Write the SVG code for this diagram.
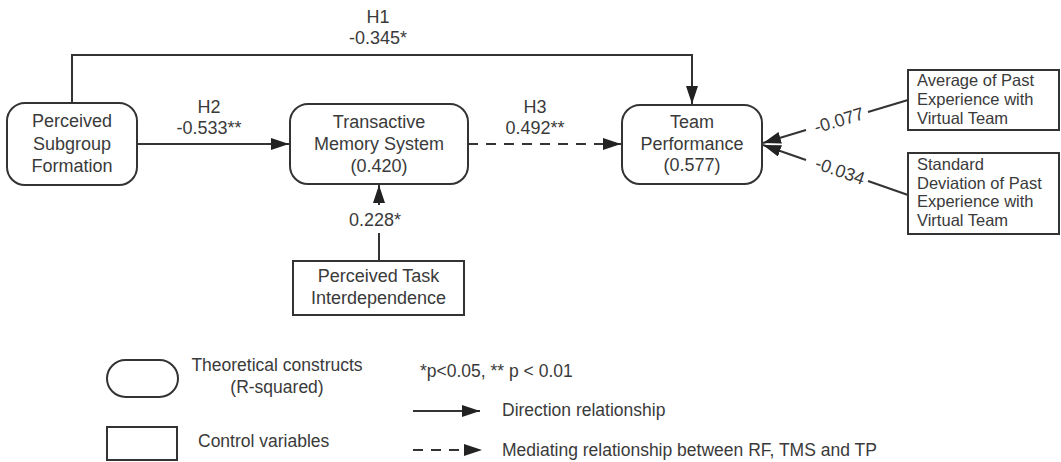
<svg xmlns="http://www.w3.org/2000/svg" width="1061" height="462" viewBox="0 0 1061 462">
<style>
.box{fill:#fff;stroke:#333;stroke-width:2}
.t{font-family:"Liberation Sans",Arial,sans-serif;font-size:18px;fill:#3a3a3a}
.m{text-anchor:middle}
.s{font-size:16.5px}
.l{font-size:17.5px}
.c{fill:none;stroke:#333;stroke-width:2}
.d{stroke-dasharray:10 8}
</style>
<defs>
<marker id="ah" markerUnits="userSpaceOnUse" markerWidth="18" markerHeight="12" refX="18" refY="6" orient="auto">
<path d="M0,0 L18,6 L0,12 z" fill="#222"/>
</marker>
</defs>
<rect width="1061" height="462" fill="#fff"/>
<g id="connectors">
<path class="c" d="M72,103 V55 H692 V104" marker-end="url(#ah)"/>
<path class="c" d="M137,144 H289" marker-end="url(#ah)"/>
<path class="c d" d="M468,144 H621" marker-end="url(#ah)"/>
<path class="c" d="M379,261 V233"/>
<path class="c" d="M379,205 V185" marker-end="url(#ah)"/>
<path class="c" d="M908,100 L868,112"/>
<path class="c" d="M806,130 L763,143" marker-end="url(#ah)"/>
<path class="c" d="M908,195 L868,181"/>
<path class="c" d="M806,160 L763,145" marker-end="url(#ah)"/>
<text class="t m" x="378" y="23">H1</text>
<text class="t m" x="378" y="44">-0.345*</text>
<text class="t m" x="209" y="113">H2</text>
<text class="t m" x="209" y="134">-0.533**</text>
<text class="t m" x="535" y="113">H3</text>
<text class="t m" x="535" y="134">0.492**</text>
<text class="t m" x="375" y="226">0.228*</text>
<text class="t m" transform="translate(839,120.5) rotate(-16.5)" y="6">-0.077</text>
<text class="t m" transform="translate(840,171) rotate(19)" y="6">-0.034</text>
</g>
<g id="psf">
<rect class="box" x="7" y="103" width="130" height="82" rx="18"/>
<text class="t m" x="72" y="127">Perceived</text>
<text class="t m" x="72" y="150">Subgroup</text>
<text class="t m" x="72" y="172">Formation</text>
</g>
<g id="tms">
<rect class="box" x="290" y="104" width="178" height="80" rx="18"/>
<text class="t m" x="379" y="128">Transactive</text>
<text class="t m" x="379" y="150">Memory System</text>
<text class="t m" x="379" y="172">(0.420)</text>
</g>
<g id="tp">
<rect class="box" x="622" y="105" width="140" height="79" rx="18"/>
<text class="t m" x="692" y="128">Team</text>
<text class="t m" x="692" y="150">Performance</text>
<text class="t m" x="692" y="171">(0.577)</text>
</g>
<g id="avg">
<rect class="box" x="908" y="70" width="151" height="60"/>
<text class="t s" x="917" y="86">Average of Past</text>
<text class="t s" x="917" y="105">Experience with</text>
<text class="t s" x="917" y="124">Virtual Team</text>
</g>
<g id="sd">
<rect class="box" x="908" y="153" width="151" height="81"/>
<text class="t s" x="917" y="170">Standard</text>
<text class="t s" x="917" y="189">Deviation of Past</text>
<text class="t s" x="917" y="207">Experience with</text>
<text class="t s" x="917" y="226">Virtual Team</text>
</g>
<g id="pti">
<rect class="box" x="293" y="261" width="171" height="54"/>
<text class="t m" x="378.5" y="282">Perceived Task</text>
<text class="t m" x="378.5" y="304">Interdependence</text>
</g>
<g id="legend">
<rect class="box" x="107" y="360" width="71" height="37" rx="18.5"/>
<text class="t l m" x="277" y="371">Theoretical constructs</text>
<text class="t l m" x="277" y="393">(R-squared)</text>
<rect class="box" x="107" y="427" width="70" height="33"/>
<text class="t l" x="198" y="447">Control variables</text>
<text class="t l" x="420" y="377">*p&lt;0.05, ** p &lt; 0.01</text>
<path class="c" d="M413,411 H480" marker-end="url(#ah)"/>
<text class="t l" x="502" y="416">Direction relationship</text>
<path class="c d" d="M413,450 H482" marker-end="url(#ah)"/>
<text class="t l" x="502" y="456">Mediating relationship between RF, TMS and TP</text>
</g>
</svg>
